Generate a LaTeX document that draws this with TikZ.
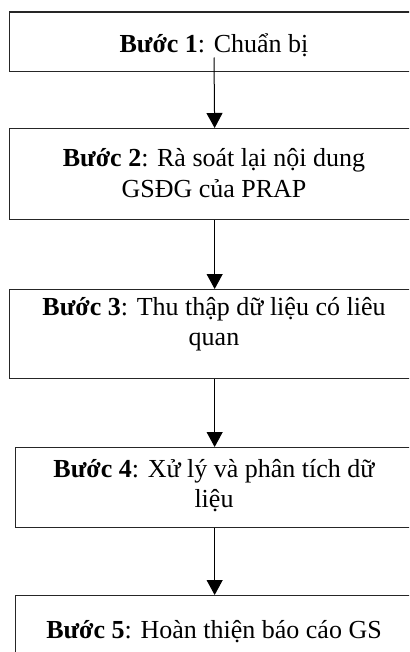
\documentclass[tikz,border=0pt]{standalone}
\usepackage{fontspec}
\setmainfont{Liberation Serif}
\usetikzlibrary{arrows.meta, positioning, calc}
\tikzset{
    step_box/.style={rectangle, draw=black!85, line width=1.3pt, anchor=north west, inner sep=0pt},
    step_text/.style={align=center, anchor=base, inner sep=0pt, font=\fontsize{26}{30}\selectfont},
    arrow/.style={-{Triangle[length=15pt, width=16pt]}, line width=1pt}
}

\begin{document}
\begin{tikzpicture}[x=1pt, y=-1pt]
    \path[use as bounding box, clip] (0,0) rectangle (409,652);
    \node (s1) [step_box, minimum width=410pt, minimum height=59.5pt] at (9,11.5) {};
    \node (s2) [step_box, minimum width=410pt, minimum height=91pt] at (9,128) {};
    \node (s3) [step_box, minimum width=410pt, minimum height=89pt] at (9,289) {};
    \node (s4) [step_box, minimum width=398pt, minimum height=80pt] at (15,447) {};
    \node (s5) [step_box, minimum width=398pt, minimum height=70pt] at (15,595) {};

    % multi-line texts sit on the baseline of their last line
    \node (t1) [step_text] at (214,53) {\textbf{Bước 1}: Chuẩn bị};
    \node (t2) [step_text] at (214,197) {\textbf{Bước 2}: Rà soát lại nội dung\\GSĐG của PRAP};
    \node (t3) [step_text] at (214,345) {\textbf{Bước 3}: Thu thập dữ liệu có liêu\\quan};
    \node (t4) [step_text] at (214,507) {\textbf{Bước 4}: Xử lý và phân tích dữ\\liệu};
    \node (t5) [step_text] at (214,638) {\textbf{Bước 5}: Hoàn thiện báo cáo GS};

    \draw [arrow] (t1.south) -- (s2.north);
    \draw [arrow] (s2.south) -- (s3.north);
    \draw [arrow] (s3.south) -- (s4.north);
    \draw [arrow] (s4.south) -- (s5.north);
\end{tikzpicture}
\end{document}
